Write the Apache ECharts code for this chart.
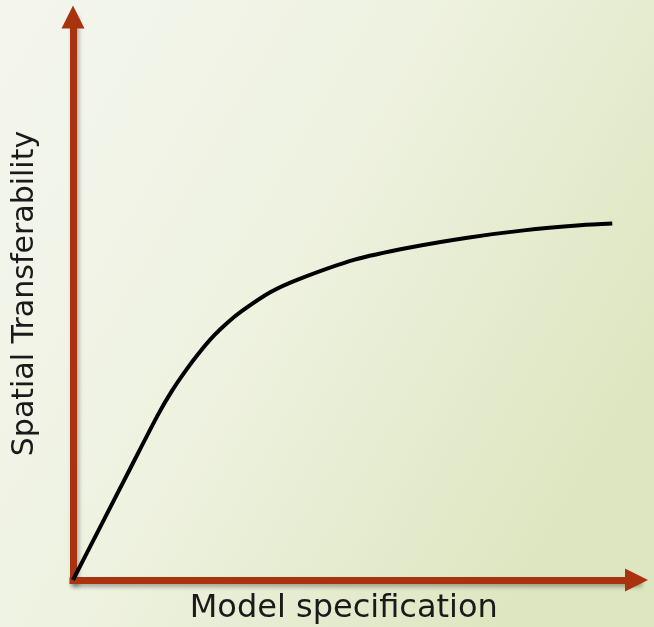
<!DOCTYPE html>
<html>
<head>
<meta charset="utf-8">
<script src="https://cdn.jsdelivr.net/npm/echarts@6/dist/echarts.min.js"></script>
<style>
  html, body { margin: 0; padding: 0; }
  #chart { width: 654px; height: 627px; }
</style>
</head>
<body>
<div id="chart"></div>
<script>
// curve (x = model specification, y = spatial transferability)
var specX = [0, 5, 10, 15, 17.5, 20, 22.5, 25, 27.5, 30, 35, 40, 50, 60, 70, 80, 90, 95.7];
var transferY = [0, 9.75, 19.5, 29.2, 33.5, 37.2, 40.5, 43.4, 45.8, 47.8, 51.1, 53.4, 56.9, 59.1, 60.8, 62.1, 63.0, 63.3];
var xName = "Model specification";
var yName = "Spatial Transferability";

var axisRed = "#a9320f";
var axisLine = {
  show: true,
  symbol: ["none", "triangle"],
  symbolSize: [23, 23],
  lineStyle: {
    color: axisRed,
    width: 7,
    cap: "square",
    shadowColor: "rgba(0,0,0,0.3)",
    shadowBlur: 4,
    shadowOffsetX: 2,
    shadowOffsetY: 3,
  },
};

var chart = echarts.init(document.getElementById("chart"));
chart.setOption({
  animation: false,
  backgroundColor: {
    type: "linear",
    x: 0, y: 0, x2: 1, y2: 0.6,
    colorStops: [
      { offset: 0, color: "#f4f6ee" },
      { offset: 0.5, color: "#eef2e0" },
      { offset: 1, color: "#dde6c0" },
    ],
  },
  grid: { left: 73, right: 17.5, top: 17, bottom: 47, outerBoundsMode: "none", containLabel: false },
  xAxis: {
    type: "value",
    min: 0,
    max: 100,
    name: xName,
    nameLocation: "middle",
    nameGap: 13,
    nameTextStyle: { color: "#1a1a1a", fontSize: 32, fontFamily: "DejaVu Sans", padding: [0, 22, 0, 0] },
    axisLine: axisLine,
    axisTick: { show: false },
    axisLabel: { show: false },
    splitLine: { show: false },
  },
  yAxis: {
    type: "value",
    min: 0,
    max: 100,
    name: yName,
    nameLocation: "middle",
    nameGap: 33,
    nameTextStyle: { color: "#1a1a1a", fontSize: 30, fontFamily: "DejaVu Sans", padding: [0, 0, 0, 10] },
    axisLine: axisLine,
    axisTick: { show: false },
    axisLabel: { show: false },
    splitLine: { show: false },
  },
  series: [
    {
      type: "line",
      data: specX.map(function (x, i) { return [x, transferY[i]]; }),
      smooth: 0.3,
      showSymbol: false,
      symbol: "none",
      z: 5,
      lineStyle: { color: "#000", width: 4 },
    },
  ],
});
</script>
</body>
</html>
